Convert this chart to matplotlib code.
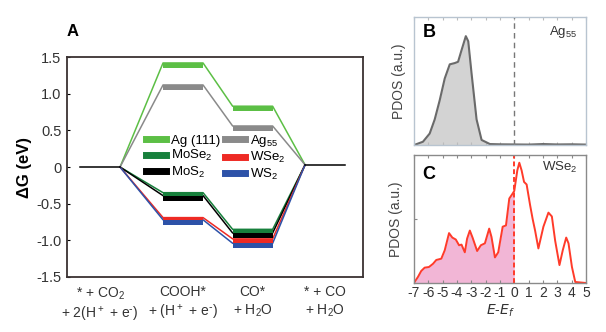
import numpy as np
import matplotlib
matplotlib.use("Agg")
import matplotlib.pyplot as plt

plt.rcParams['font.family'] = ['Liberation Sans', 'DejaVu Sans']
plt.rcParams['mathtext.default'] = 'regular'
plt.rcParams['axes.unicode_minus'] = False

# -------------------------
# DATA - panel A (free energy diagram)
# -------------------------
step_labels = ["* + CO$_2$\n+ 2(H$^+$ + e$^{\\text{-}}$)", "COOH*\n+ (H$^+$ + e$^{\\text{-}}$)",
               "CO*\n+ H$_2$O", "* + CO\n+ H$_2$O"]
species = ["Ag (111)", "MoSe$_2$", "MoS$_2$", "Ag$_{55}$", "WSe$_2$", "WS$_2$"]
colors = ["#5cbf45", "#17803c", "#000000", "#8a8a8a", "#ee2a24", "#2d52a8"]
cooh = [1.42, -0.35, -0.39, 1.12, -0.69, -0.72]
co = [0.83, -0.85, -0.90, 0.56, -0.98, -1.04]
start_level = 0.0
end_level = 0.03

# -------------------------
# DATA - panel B (Ag55 PDOS)
# -------------------------
e_ag = [-7, -6.37, -5.9, -5.55, -5.2, -4.85, -4.5, -4.15, -3.92, -3.68, -3.38,
        -3.21, -2.98, -2.63, -2.28, -1.7, -1.0, 0, 1.0, 2.0, 3.0, 4.0, 5.0]
dos_ag = [0.0, 0.026, 0.09, 0.2, 0.35, 0.52, 0.63, 0.64, 0.65, 0.74, 0.85,
          0.81, 0.56, 0.2, 0.04, 0.008, 0.006, 0.005, 0.004, 0.008, 0.005, 0.006, 0.004]

# -------------------------
# DATA - panel C (WSe2 PDOS)
# -------------------------
e_ws = [-7, -6.72, -6.49, -6.25, -5.95, -5.67, -5.44, -5.09, -4.85, -4.55, -4.32,
        -4.08, -3.85, -3.68, -3.45, -3.29, -3.1, -2.91, -2.59, -2.33, -2.05, -1.75,
        -1.59, -1.35, -1.12, -0.81, -0.58, -0.35, -0.11, 0.0, 0.21, 0.35, 0.51,
        0.68, 0.86, 1.1, 1.28, 1.45, 1.68, 2.03, 2.38, 2.62, 2.85, 3.15, 3.38,
        3.62, 3.78, 4.02, 4.25, 5.0]
dos_ws = [0.0, 0.047, 0.094, 0.12, 0.125, 0.15, 0.18, 0.19, 0.256, 0.39, 0.355,
          0.34, 0.295, 0.30, 0.24, 0.347, 0.41, 0.355, 0.25, 0.295, 0.31, 0.425,
          0.36, 0.2, 0.24, 0.44, 0.45, 0.66, 0.70, 0.72, 0.88, 0.94, 0.88,
          0.79, 0.77, 0.61, 0.50, 0.41, 0.27, 0.44, 0.55, 0.52, 0.33, 0.14, 0.256,
          0.355, 0.31, 0.125, 0.008, 0.0]

# layout of steps (x in axis units)
step_x = [0.825, 2.9, 4.64, 6.45]
hw = 0.5
bar_th = 0.07

fig = plt.figure(figsize=(6.06, 3.32), dpi=100)

# -------------------------
# PANEL A
# -------------------------
ax = fig.add_axes([0.1106, 0.1657, 0.4885, 0.6623])
draw_order = [0, 3, 1, 2, 4, 5]
for i in draw_order:
    lv = [start_level, cooh[i], co[i], end_level]
    xs, ys = [], []
    for k in range(4):
        xs += [step_x[k] - hw, step_x[k] + hw]
        ys += [lv[k], lv[k]]
    ax.plot(xs[1:-1], ys[1:-1], color=colors[i], lw=1.1, zorder=2)
    for k in (1, 2):
        ax.fill_between([step_x[k] - hw, step_x[k] + hw], lv[k] - bar_th, lv[k],
                        color=colors[i], lw=0, zorder=3)
ax.plot([step_x[0] - hw, step_x[0] + hw], [start_level] * 2, color="k", lw=1.1, zorder=4)
ax.plot([step_x[3] - hw, step_x[3] + hw], [end_level] * 2, color="k", lw=1.1, zorder=4)

handles = [plt.Line2D([], [], color=c, lw=5) for c in colors]
ax.legend(handles, species, ncol=2, loc="upper left", bbox_to_anchor=(0.25, 0.68),
          frameon=False, fontsize=9.5, handlelength=1.5, handletextpad=0.4,
          columnspacing=0.35, labelspacing=0.12, borderaxespad=0)

ax.set_xlim(0, 7.4)
ax.set_ylim(-1.5, 1.5)
ax.set_yticks([1.5, 1.0, 0.5, 0, -0.5, -1.0, -1.5])
ax.set_yticklabels(["1.5", "1.0", "0.5", "0", "-0.5", "-1.0", "-1.5"], fontsize=10.5, color="#333333")
ax.set_xticks(step_x)
ax.set_xticklabels(step_labels, fontsize=10, color="#333333", linespacing=1.25)
ax.tick_params(axis="x", length=0, pad=6)
ax.tick_params(axis="y", length=2, direction="in", pad=4)
ax.set_ylabel("ΔG (eV)", fontsize=12, fontweight="bold", labelpad=3)
for s in ax.spines.values():
    s.set_color("#3a3232")
    s.set_linewidth(1.3)
fig.text(0.1106, 0.905, "A", fontsize=12, fontweight="bold", va="center")

# -------------------------
# PANEL B
# -------------------------
axb = fig.add_axes([0.683, 0.563, 0.284, 0.386])
e_ag = np.array(e_ag)
dos_ag = np.array(dos_ag)
axb.fill_between(e_ag, 0, dos_ag, where=e_ag <= 0, color="#d3d3d3", lw=0)
axb.plot(e_ag, dos_ag, color="#6a6a6a", lw=1.5)
axb.axvline(0, color="#777777", lw=1, ls=(0, (4, 3)))
axb.set_xlim(-7, 5)
axb.set_ylim(0, 1.0)
axb.set_xticks(np.arange(-7, 6, 1))
axb.set_xticklabels([])
axb.set_yticks([])
axb.tick_params(axis="x", direction="in", length=2, color="#bbbbbb", top=True)
for s in axb.spines.values():
    s.set_color("#b8c4d0")
    s.set_linewidth(1)
axb.set_ylabel("PDOS (a.u.)", fontsize=10, color="#444444", labelpad=6)
axb.text(0.05, 0.88, "B", transform=axb.transAxes, fontsize=13, fontweight="bold", va="center")
axb.text(0.95, 0.88, "Ag$_{55}$", transform=axb.transAxes, fontsize=9.5, ha="right", va="center",
         color="#333333")

# -------------------------
# PANEL C
# -------------------------
axc = fig.add_axes([0.683, 0.1476, 0.284, 0.3854])
e_ws = np.array(e_ws)
dos_ws = np.array(dos_ws)
axc.fill_between(e_ws, 0, dos_ws, where=e_ws <= 0, color="#f2b6d6", lw=0)
axc.plot(e_ws, dos_ws, color="#ff3b2a", lw=1.4)
axc.axvline(0, color="#ff3b2a", lw=1.4, ls=(0, (2.5, 1.5)))
axc.set_xlim(-7, 5)
axc.set_ylim(0, 1.0)
axc.set_xticks(np.arange(-7, 6, 1))
axc.set_xticklabels([str(v) for v in range(-7, 6)], fontsize=10, color="#333333")
axc.set_yticks([0.5])
axc.set_yticklabels([])
axc.tick_params(axis="both", direction="in", length=2, color="#888888", top=True, pad=2)
for s in axc.spines.values():
    s.set_color("#8a8a8a")
    s.set_linewidth(1)
axc.set_ylabel("PDOS (a.u.)", fontsize=10, color="#444444", labelpad=6)
axc.set_xlabel("$\\it{E}$-$\\it{E_f}$", fontsize=10, color="#333333", labelpad=2)
axc.text(0.05, 0.85, "C", transform=axc.transAxes, fontsize=13, fontweight="bold", va="center")
axc.text(0.95, 0.9, "WSe$_2$", transform=axc.transAxes, fontsize=9.5, ha="right", va="center",
         color="#333333")

fig.savefig("out.png", dpi=100)
